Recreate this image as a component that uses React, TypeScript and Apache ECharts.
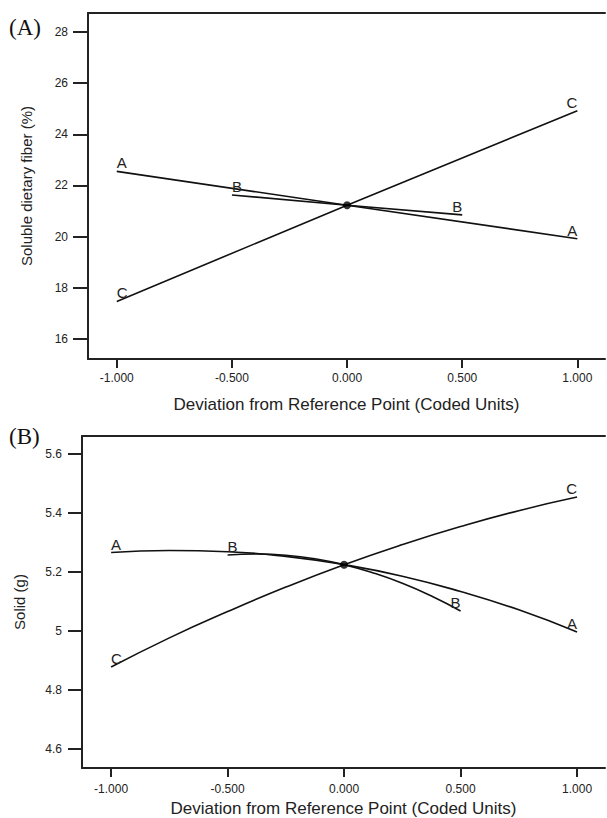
import React, { useEffect, useRef } from "react";
import * as echarts from "echarts";

// Panel A: Soluble dietary fiber (%) - straight traces
const traceA_A: [number, number][] = [[-1, 22.55], [0, 21.23], [1, 19.92]];
const traceA_B: [number, number][] = [[-0.5, 21.63], [0, 21.23], [0.5, 20.85]];
const traceA_C: [number, number][] = [[-1, 17.47], [0, 21.23], [1, 24.92]];
const refA: [number, number] = [0, 21.23];

// Panel B: Solid (g) - curved traces
const traceB_A: [number, number][] = [
  [-1, 5.266], [-0.75, 5.273], [-0.5, 5.269], [-0.25, 5.253], [0, 5.225],
  [0.25, 5.186], [0.5, 5.134], [0.75, 5.072], [1, 4.997],
];
const traceB_B: [number, number][] = [
  [-0.5, 5.258], [-0.375, 5.261], [-0.25, 5.257], [-0.125, 5.245], [0, 5.225],
  [0.125, 5.197], [0.25, 5.162], [0.375, 5.119], [0.5, 5.068],
];
const traceB_C: [number, number][] = [
  [-1, 4.878], [-0.75, 4.977], [-0.5, 5.066], [-0.25, 5.149], [0, 5.225],
  [0.25, 5.293], [0.5, 5.354], [0.75, 5.408], [1, 5.454],
];
const refB: [number, number] = [0, 5.225];

const xTicks = [-1, -0.5, 0, 0.5, 1];
const yTicksA = [16, 18, 20, 22, 24, 26, 28];
const yTicksB = [4.6, 4.8, 5, 5.2, 5.4, 5.6];

const FONT = "Liberation Sans, Arial, sans-serif";

function withEndLabels(name: string, pts: [number, number][]) {
  return pts.map((p, i) => {
    if (i === 0) {
      return {
        value: p,
        label: { show: true, formatter: name, position: "top", align: "left", distance: 1 },
      };
    }
    if (i === pts.length - 1) {
      return {
        value: p,
        label: { show: true, formatter: name, position: "top", align: "right", distance: 1 },
      };
    }
    return { value: p, label: { show: false } };
  });
}

function lineSeries(name: string, pts: [number, number][], idx: number, smooth: boolean) {
  return {
    type: "line",
    name,
    xAxisIndex: idx,
    yAxisIndex: idx,
    data: withEndLabels(name, pts),
    smooth,
    symbol: "circle",
    symbolSize: 0,
    showSymbol: true,
    itemStyle: { color: "#111" },
    lineStyle: { color: "#111", width: 1.6 },
    label: { color: "#222", fontSize: 15, fontFamily: FONT },
    z: 3,
  };
}

export default function App() {
  const ref = useRef<HTMLDivElement>(null);
  useEffect(() => {
    if (!ref.current) return;
    const chart = echarts.init(ref.current, undefined, { renderer: "svg" });
    const axisLabel = { color: "#222", fontSize: 12, fontFamily: FONT };
    const axisLine = { show: true, onZero: false, lineStyle: { color: "#222", width: 2 } };
    const xAxisBase = (gridIndex: number, nameGap: number, margin: number) => ({
      type: "value",
      gridIndex,
      min: -1.125,
      max: 1.12,
      position: "bottom",
      name: "Deviation from Reference Point (Coded Units)",
      nameLocation: "middle",
      nameGap,
      nameTextStyle: { color: "#222", fontSize: 17, fontFamily: FONT },
      axisLine,
      axisTick: { show: true, length: 9, lineStyle: { color: "#222", width: 2 }, customValues: xTicks },
      axisLabel: { ...axisLabel, margin, formatter: (v: number) => v.toFixed(3), customValues: xTicks },
      splitLine: { show: false },
    });
    const topAxis = (gridIndex: number) => ({
      type: "value",
      gridIndex,
      position: "top",
      min: 0,
      max: 1,
      axisLine,
      axisTick: { show: false },
      axisLabel: { show: false },
      splitLine: { show: false },
    });
    chart.setOption({
      animation: false,
      backgroundColor: "#fff",
      textStyle: { fontFamily: FONT },
      grid: [
        { left: 88, top: 13, right: 2, bottom: 459, containLabel: false, outerBoundsMode: "none" },
        { left: 82, top: 436, right: 2, bottom: 50, containLabel: false, outerBoundsMode: "none" },
      ],
      xAxis: [xAxisBase(0, 37, 13), xAxisBase(1, 32, 15), topAxis(0), topAxis(1)],
      yAxis: [
        {
          type: "value",
          gridIndex: 0,
          min: 15.22,
          max: 28.74,
          name: "Soluble dietary fiber (%)",
          nameLocation: "middle",
          nameGap: 54,
          nameTextStyle: { color: "#222", fontSize: 15, fontFamily: FONT },
          axisLine,
          axisTick: { show: true, length: 15, lineStyle: { color: "#222", width: 2 }, customValues: yTicksA },
          axisLabel: { ...axisLabel, margin: 20, formatter: (v: number) => String(v), customValues: yTicksA },
          splitLine: { show: false },
        },
        {
          type: "value",
          gridIndex: 1,
          min: 4.536,
          max: 5.661,
          name: "Solid (g)",
          nameLocation: "middle",
          nameGap: 55,
          nameTextStyle: { color: "#222", fontSize: 15, fontFamily: FONT },
          axisLine,
          axisTick: { show: true, length: 14, lineStyle: { color: "#222", width: 2 }, customValues: yTicksB },
          axisLabel: {
            ...axisLabel,
            margin: 20,
            formatter: (v: number) => String(Math.round(v * 10) / 10),
            customValues: yTicksB,
          },
          splitLine: { show: false },
        },
      ],
      series: [
        lineSeries("A", traceA_A, 0, false),
        lineSeries("B", traceA_B, 0, false),
        lineSeries("C", traceA_C, 0, false),
        {
          type: "scatter",
          xAxisIndex: 0,
          yAxisIndex: 0,
          data: [refA],
          symbolSize: 8,
          itemStyle: { color: "#000" },
          z: 5,
        },
        lineSeries("A", traceB_A, 1, true),
        lineSeries("B", traceB_B, 1, true),
        lineSeries("C", traceB_C, 1, true),
        {
          type: "scatter",
          xAxisIndex: 1,
          yAxisIndex: 1,
          data: [refB],
          symbolSize: 8,
          itemStyle: { color: "#000" },
          z: 5,
        },
      ],
      graphic: [
        {
          type: "text",
          left: 9,
          top: 16,
          style: { text: "(A)", fontSize: 23, fontFamily: "Liberation Serif, Times New Roman, serif", fill: "#111" },
        },
        {
          type: "text",
          left: 9,
          top: 425,
          style: { text: "(B)", fontSize: 23, fontFamily: "Liberation Serif, Times New Roman, serif", fill: "#111" },
        },
      ],
    });
    return () => chart.dispose();
  }, []);
  return (
    <div
      ref={ref}
      style={{ position: "fixed", left: 0, top: 0, width: 607, height: 818, background: "#fff" }}
    />
  );
}
